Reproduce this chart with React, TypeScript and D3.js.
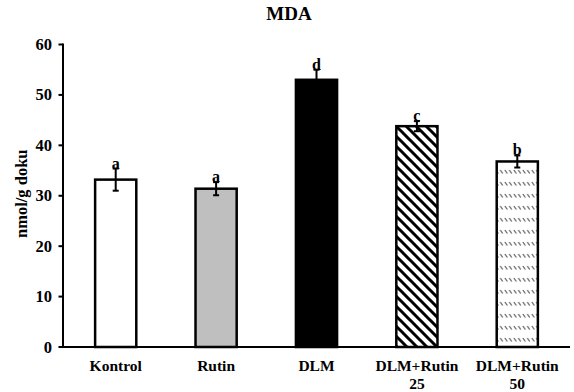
import React from "react";
import * as d3 from "d3";

const categories = ["Kontrol", "Rutin", "DLM", "DLM+Rutin 25", "DLM+Rutin 50"];
const labelLines = [["Kontrol"], ["Rutin"], ["DLM"], ["DLM+Rutin", "25"], ["DLM+Rutin", "50"]];
const values = [33.2, 31.4, 53.0, 43.8, 36.8];
const errors = [2.2, 1.3, 2.0, 1.0, 1.2];
const letters = ["a", "a", "d", "c", "b"];
const fills = ["#ffffff", "#bfbfbf", "#000000", "url(#hatch25)", "url(#hatch50)"];
const yTicks = [0, 10, 20, 30, 40, 50, 60];

const W = 574, H = 392;
const left = 63, right = 570, top = 44.5, bottom = 347;
const FONT = "'Liberation Serif', 'Times New Roman', serif";

export default function App() {
  const x = d3.scaleBand<string>().domain(categories).range([left, right]).paddingInner(0.59).paddingOuter(0.32);
  const y = d3.scaleLinear().domain([0, 60]).range([bottom, top]);
  const bw = x.bandwidth();
  return (
    <svg width={W} height={H} style={{ position: "absolute", left: 0, top: 0, background: "#fff" }}>
      <defs>
        <pattern id="hatch25" patternUnits="userSpaceOnUse" width={10} height={10}>
          <rect width={10} height={10} fill="#fff" />
          <path d="M-5,5 L5,15 M0,0 L10,10 M5,-5 L15,5" stroke="#000" strokeWidth={3} />
        </pattern>
        <pattern id="hatch50" patternUnits="userSpaceOnUse" width={4.5} height={12}>
          <rect width={4.5} height={12} fill="#fff" />
          <path d="M0.8,2 L3.3,5.5" stroke="#555" strokeWidth={1.2} />
        </pattern>
      </defs>
      <text x={289} y={20} textAnchor="middle" fontFamily={FONT} fontWeight="bold" fontSize={19}>MDA</text>
      <text transform={`translate(21,${(top + bottom) / 2 - 2}) rotate(-90)`} textAnchor="middle" dominantBaseline="central"
        fontFamily={FONT} fontWeight="bold" fontSize={16.5}>nmol/g doku</text>
      {categories.map((c, i) => {
        const x0 = x(c)!;
        const cx = x0 + bw / 2;
        const yt = y(values[i]);
        const eTop = y(values[i] + errors[i]);
        const eBot = y(values[i] - errors[i]);
        return (
          <g key={c}>
            <rect x={x0} y={yt} width={bw} height={bottom - yt} fill={fills[i]} stroke="#000" strokeWidth={2.5} />
            <line x1={cx} x2={cx} y1={eTop} y2={eBot} stroke="#000" strokeWidth={2} />
            <line x1={cx - 3} x2={cx + 3} y1={eTop} y2={eTop} stroke="#000" strokeWidth={2} />
            <line x1={cx - 3} x2={cx + 3} y1={eBot} y2={eBot} stroke="#000" strokeWidth={2} />
            <text x={cx} y={eTop} textAnchor="middle" fontFamily={FONT} fontWeight="bold" fontSize={16}>{letters[i]}</text>
            {labelLines[i].map((t, j) => (
              <text key={j} x={cx} y={371 + j * 17.5} textAnchor="middle" fontFamily={FONT} fontWeight="bold" fontSize={15.5}>{t}</text>
            ))}
          </g>
        );
      })}
      <line x1={left} x2={left} y1={top - 1} y2={bottom} stroke="#000" strokeWidth={2} />
      <line x1={left} x2={right} y1={bottom} y2={bottom} stroke="#000" strokeWidth={2} />
      {yTicks.map((t) => (
        <g key={t}>
          <line x1={left - 4.5} x2={left} y1={y(t)} y2={y(t)} stroke="#000" strokeWidth={2} />
          <text x={left - 11} y={y(t)} textAnchor="end" dominantBaseline="central" fontFamily={FONT} fontWeight="bold" fontSize={16.5}>{t}</text>
        </g>
      ))}
    </svg>
  );
}
